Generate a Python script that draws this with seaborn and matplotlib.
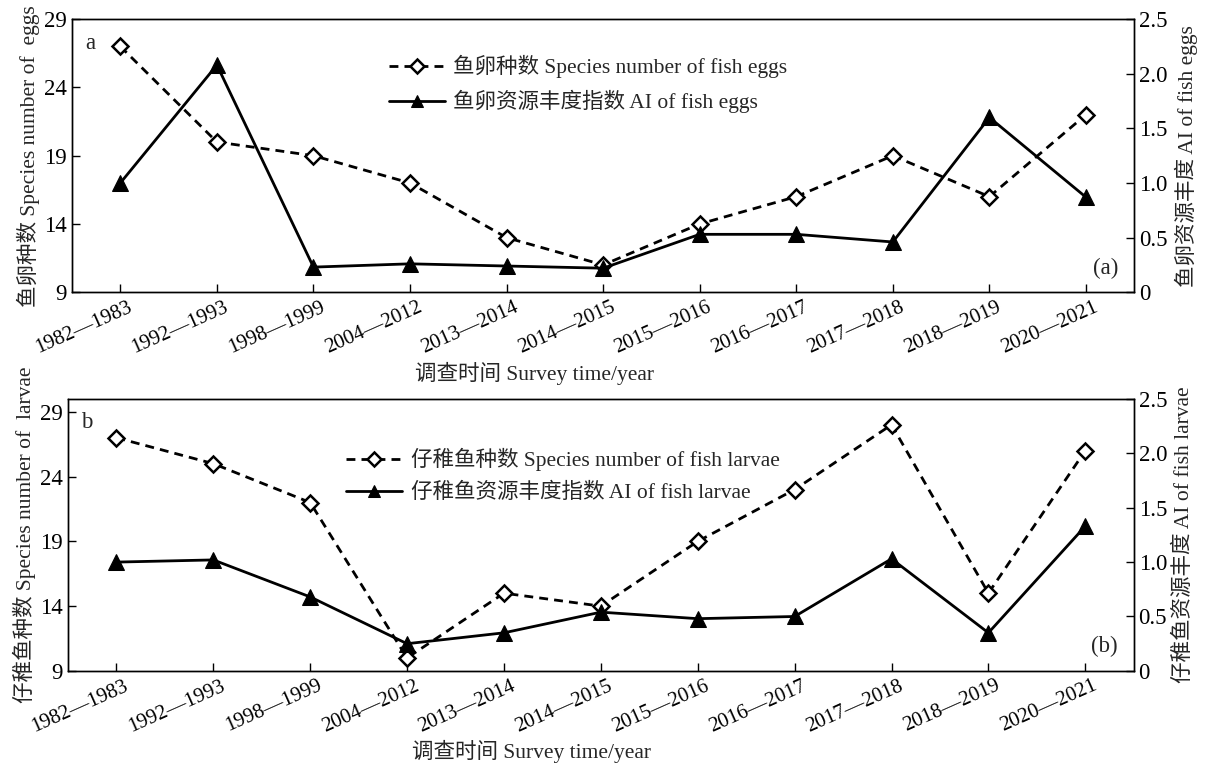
import numpy as np
import pandas as pd
import matplotlib
matplotlib.use("Agg")
import matplotlib.pyplot as plt
import matplotlib.transforms as mtransforms
import seaborn as sns

periods = ["1982—1983", "1992—1993", "1998—1999", "2004—2012", "2013—2014", "2014—2015",
           "2015—2016", "2016—2017", "2017—2018", "2018—2019", "2020—2021"]
egg_species = [27, 20, 19, 17, 13, 11, 14, 16, 19, 16, 22]
egg_ai = [1.0, 2.08, 0.23, 0.26, 0.24, 0.22, 0.53, 0.53, 0.46, 1.6, 0.87]
larva_species = [27, 25, 22, 10, 15, 14, 19, 23, 28, 15, 26]
larva_ai = [1.0, 1.02, 0.68, 0.25, 0.35, 0.54, 0.48, 0.50, 1.03, 0.35, 1.33]

sns.set_style("ticks")
plt.rcParams['font.family'] = ['Liberation Serif', 'Noto Sans CJK SC', 'DejaVu Sans']
plt.rcParams['axes.unicode_minus'] = False
FS = 15.5
TFS = 16.5

fig = plt.figure(figsize=(12.07, 7.65), dpi=100)
ax1 = fig.add_axes([0.0597, 0.618, 0.880, 0.357])
ax2 = fig.add_axes([0.0563, 0.123, 0.883, 0.3556])


def draw(ax, species, ai, ylim, sp_label, ai_label, yl_left, yl_right, tag, leg_anchor):
    df = pd.DataFrame({"period": periods, "species": species, "ai": ai})
    sns.lineplot(data=df, x="period", y="species", ax=ax, sort=False, color="black",
                 linestyle=(0, (3.2, 2.2)), linewidth=2.0, marker="D", markersize=8.5,
                 markerfacecolor="white", markeredgecolor="black", markeredgewidth=1.8,
                 label=sp_label, legend=False)
    tw = ax.twinx()
    sns.lineplot(data=df, x="period", y="ai", ax=tw, sort=False, color="black",
                 linewidth=2.0, marker="^", markersize=11, markerfacecolor="black",
                 markeredgecolor="black", label=ai_label, legend=False)
    ax.set_xlim(-0.5, 10.5)
    ax.set_ylim(*ylim)
    ax.set_yticks([9, 14, 19, 24, 29])
    tw.set_ylim(0, 2.5)
    tw.set_yticks([0, 0.5, 1.0, 1.5, 2.0, 2.5])
    tw.set_yticklabels(["0", "0.5", "1.0", "1.5", "2.0", "2.5"])
    for a in (ax, tw):
        a.tick_params(direction="in", length=6, width=1.0, labelsize=TFS, colors="black")
        for s in a.spines.values():
            s.set_linewidth(1.0)
            s.set_color("black")
    ax.tick_params(axis="x", pad=4, labelsize=15)
    ax.set_xticks(range(len(periods)))
    ax.set_xticklabels(periods, rotation=24, ha="right", va="top", rotation_mode="anchor")
    shift = mtransforms.ScaledTranslation(7 / 100, 0, fig.dpi_scale_trans)
    for lab in ax.get_xticklabels():
        lab.set_transform(lab.get_transform() + shift)
    ax.set_xlabel("调查时间 Survey time/year", fontsize=FS)
    ax.xaxis.set_label_coords(0.435, -0.255)
    ax.set_ylabel(yl_left, fontsize=FS, labelpad=3)
    tw.set_ylabel(yl_right, fontsize=FS, labelpad=5)
    ax.text(0.012, 0.95, tag, transform=ax.transAxes, fontsize=TFS, va="top", ha="left")
    ax.text(0.985, 0.05, "(" + tag + ")", transform=ax.transAxes, fontsize=TFS,
            va="bottom", ha="right")
    handles = ax.get_lines()[:1] + tw.get_lines()[:1]
    tw.legend(handles, [sp_label, ai_label], loc="upper left", bbox_to_anchor=leg_anchor,
              frameon=False, fontsize=FS, handlelength=2.6, markerscale=0.8,
              labelspacing=0.55, handletextpad=0.4)


draw(ax1, egg_species, egg_ai, (9, 29),
     "鱼卵种数 Species number of fish eggs", "鱼卵资源丰度指数 AI of fish eggs",
     "鱼卵种数 Species number of  eggs", "鱼卵资源丰度 AI of fish eggs", "a", (0.28, 0.94))
draw(ax2, larva_species, larva_ai, (9, 30),
     "仔稚鱼种数 Species number of fish larvae", "仔稚鱼资源丰度指数 AI of fish larvae",
     "仔稚鱼种数 Species number of  larvae", "仔稚鱼资源丰度 AI of fish larvae", "b", (0.243, 0.89))

fig.savefig("out.png", dpi=100)
